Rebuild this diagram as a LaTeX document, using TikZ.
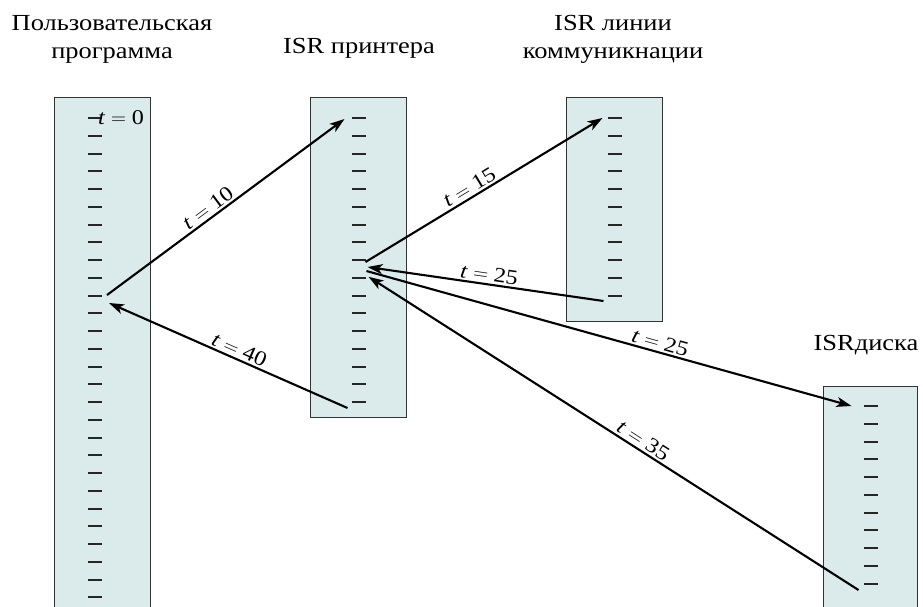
\documentclass[tikz,border=0pt]{standalone}
\usepackage{fontspec}
\setmainfont{Liberation Serif}
\newfontfamily\widefont[FakeStretch=1.15]{Liberation Serif}
\usepackage{tikz}
\usetikzlibrary{arrows.meta}
\definecolor{isrfill}{RGB}{219,234,234}

\begin{document}
\begin{tikzpicture}[x=1pt, y=-1pt,
    column/.style={rectangle, draw=black!80, fill=isrfill, line width=1.3pt,
      anchor=north west, inner sep=0pt, minimum width=96pt},
    tick/.style={rectangle, fill=black!85, inner sep=0pt, outer sep=0pt,
      minimum width=14pt, minimum height=2pt},
    title/.style={font=\widefont\fontsize{23}{28}\selectfont, align=center, inner sep=0pt},
    flow/.style={line width=2.1pt, -{Stealth[length=15pt, width=10pt, inset=4pt]}},
    timelabel/.style={font=\widefont\fontsize{21}{25}\selectfont, sloped, above=1pt, inner sep=1pt}]
  \clip (0,0) rectangle (923,606);
  % Nodes
  \node[title, anchor=north] (usertitle) at (112,15) {Пользовательская\\программа};
  \node[title, anchor=base] (printertitle) at (359,53) {ISR принтера};
  \node[title, anchor=north] (commtitle) at (613,15) {ISR линии\\коммуникнации};
  \node[title, anchor=base] (disktitle) at (866,350) {ISRдиска};
  \node[column, minimum height=530pt] (user) at (54,97) {};
  \node[column, minimum height=320pt] (printer) at (310,97) {};
  \node[column, minimum height=224pt] (comm) at (566,97) {};
  \node[column, minimum width=94pt, minimum height=240pt] (disk) at (823,386) {};
  \foreach \i in {0,...,27} \node[tick] (u\i) at (95,{118+17.75*\i}) {};
  \foreach \i in {0,...,16} \node[tick] (p\i) at (358.5,{118+17.75*\i}) {};
  \foreach \i in {0,...,10} \node[tick] (c\i) at (614.5,{118+17.75*\i}) {};
  \foreach \i in {0,...,10} \node[tick] (d\i) at (870.5,{406+17.75*\i}) {};
  \node[anchor=west, inner sep=0pt, font=\widefont\fontsize{21}{25}\selectfont] (tzero) at ([xshift=-4pt]u0.east) {\textit{t}${}={}$0};
  % Lines
  \draw[flow] ([shift={(5,-0.5)}]u10.east) -- node[timelabel, pos=0.45] {\textit{t}${}={}$10} ([shift={(-7,1)}]p0.west);
  \draw[flow] ([shift={(0,2)}]p8.east) -- node[timelabel, pos=0.46] {\textit{t}${}={}$15} ([shift={(-5,0)}]c0.west);
  \draw[flow] ([shift={(-4,5.5)}]c10.west) -- node[timelabel, pos=0.49] {\textit{t}${}={}$25} ([shift={(2,7)}]p8.east);
  \draw[flow] ([shift={(1,11)}]p8.east) -- node[timelabel, pos=0.6] {\textit{t}${}={}$25} ([shift={(-12,0)}]d0.west);
  \draw[flow] ([shift={(-5,6.5)}]d10.west) -- node[timelabel, pos=0.45] {\textit{t}${}={}$35} ([shift={(3,-1)}]p9.east);
  \draw[flow] ([shift={(-4,6)}]p16.west) -- node[timelabel, pos=0.47] {\textit{t}${}={}$40} ([shift={(7,7.5)}]u10.east);
\end{tikzpicture}
\end{document}
